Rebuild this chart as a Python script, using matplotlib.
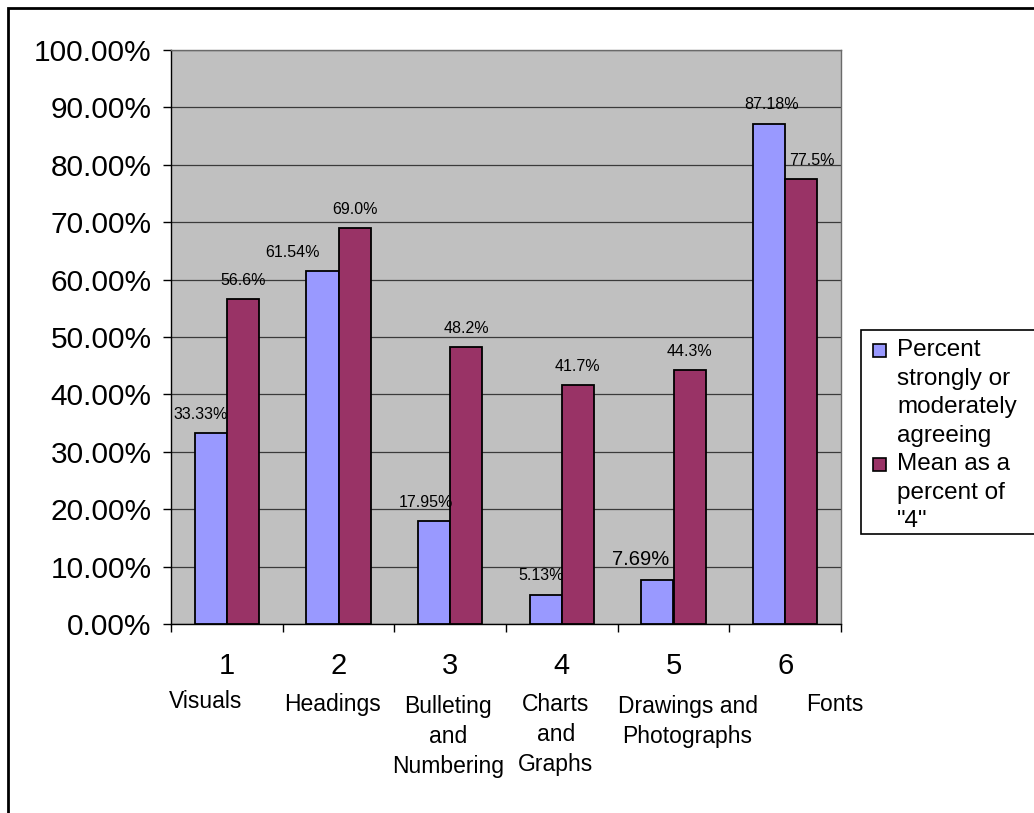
import matplotlib
matplotlib.use("Agg")
import matplotlib.pyplot as plt
from matplotlib.patches import Rectangle
from matplotlib.ticker import FixedLocator, FuncFormatter

plt.rcParams['font.family'] = ['Liberation Sans', 'DejaVu Sans']

# ---- data ----
category_numbers = ["1", "2", "3", "4", "5", "6"]
category_names = ["Visuals", "Headings", "Bulleting\nand\nNumbering",
                  "Charts\nand\nGraphs", "Drawings and\nPhotographs", "Fonts"]
pct_agreeing = [33.33, 61.54, 17.95, 5.13, 7.69, 87.18]
mean_pct_of_4 = [56.6, 69.0, 48.2, 41.7, 44.3, 77.5]
agree_labels = ["33.33%", "61.54%", "17.95%", "5.13%", "7.69%", "87.18%"]
mean_labels = ["56.6%", "69.0%", "48.2%", "41.7%", "44.3%", "77.5%"]
legend_lines = [["Percent", "strongly or", "moderately", "agreeing"],
                ["Mean as a", "percent of", '"4"']]

# ---- layout (pixels) ----
W, H = 1034, 813
DPI = 100
BLUE = "#9999FF"
RED = "#993366"
PLOT_BG = "#C0C0C0"

# label nudges in pixels (x) so neighbouring labels do not collide
agree_dx = [-10, -30, -8, -5, -17, 2]
agree_size = [11.5, 11.5, 11.5, 11.5, 14.5, 11.5]
mean_dx = [0, 0, 0, 0, 0, 11]
name_dx = [-21, -6, -2, -6, 14, 50]
name_top = [690, 693, 695, 693, 695, 693]

fig = plt.figure(figsize=(W / DPI, H / DPI), dpi=DPI)
fig.patch.set_facecolor("white")


def fx(px):
    return px / W


def fy(py):
    return 1 - py / H


# outer chart border
fig.patches.append(Rectangle((fx(8), fy(900)), fx(1100), fy(8) - fy(900),
                             transform=fig.transFigure, fill=False,
                             edgecolor="black", linewidth=2, zorder=0))

L, R, T, B = 171, 841, 50, 624
ax = fig.add_axes([fx(L), fy(B), fx(R - L), fy(T) - fy(B)])
ax.set_facecolor(PLOT_BG)

n = len(category_numbers)
xs = list(range(n))
bw = 0.287
b1 = ax.bar([x - bw / 2 for x in xs], pct_agreeing, width=bw, color=BLUE,
            edgecolor="black", linewidth=1.3, zorder=3)
b2 = ax.bar([x + bw / 2 for x in xs], mean_pct_of_4, width=bw, color=RED,
            edgecolor="black", linewidth=1.3, zorder=3)

ax.set_xlim(-0.5, n - 0.5)
ax.set_ylim(0, 100)

# y axis
ax.yaxis.set_major_locator(FixedLocator([i * 10 for i in range(11)]))
ax.yaxis.set_major_formatter(FuncFormatter(lambda v, p: f"{v:.2f}%"))
ax.tick_params(axis="y", direction="out", length=6, width=1, pad=8,
               labelsize=21.5, colors="black")
ax.grid(axis="y", color="#3a3a3a", linewidth=0.9, zorder=1)
ax.set_axisbelow(True)

# x axis: ticks between groups, category numbers under group centres
ax.xaxis.set_major_locator(FixedLocator([i - 0.5 for i in range(n + 1)]))
ax.xaxis.set_major_formatter(FuncFormatter(lambda v, p: ""))
ax.xaxis.set_minor_locator(FixedLocator(xs))
ax.set_xticklabels(category_numbers, minor=True)
ax.tick_params(axis="x", which="major", direction="out", length=6, width=1)
ax.tick_params(axis="x", which="minor", length=0, pad=20, labelsize=21)

for side in ("top", "right"):
    ax.spines[side].set_color("#6a6a6a")
    ax.spines[side].set_linewidth(1.0)
for side in ("left", "bottom"):
    ax.spines[side].set_color("black")
    ax.spines[side].set_linewidth(1.0)

# data labels
for i, rect in enumerate(b1):
    ax.annotate(agree_labels[i],
                (rect.get_x() + rect.get_width() / 2, rect.get_height()),
                xytext=(agree_dx[i] * 0.72, 8), textcoords="offset points",
                ha="center", va="bottom", fontsize=agree_size[i], zorder=5)
for i, rect in enumerate(b2):
    ax.annotate(mean_labels[i],
                (rect.get_x() + rect.get_width() / 2, rect.get_height()),
                xytext=(mean_dx[i] * 0.72, 8), textcoords="offset points",
                ha="center", va="bottom", fontsize=11.5, zorder=5)

# category names under the numbers
group_w = (R - L) / n
for i, name in enumerate(category_names):
    cx = L + group_w * (i + 0.5) + name_dx[i]
    fig.text(fx(cx), fy(name_top[i]), name, ha="center", va="top",
             fontsize=16.5, linespacing=1.4)

# legend box
LG_L, LG_T, LG_B = 861, 330, 534
fig.patches.append(Rectangle((fx(LG_L), fy(LG_B)), fx(300), fy(LG_T) - fy(LG_B),
                             transform=fig.transFigure, facecolor="white",
                             edgecolor="black", linewidth=1.2, zorder=1))
entry_y = [[350, 378.5, 407, 435.5], [464, 492.5, 521]]
for colour, lines, ys in zip([BLUE, RED], legend_lines, entry_y):
    fig.patches.append(Rectangle((fx(873), fy(ys[0] + 7)), fx(13), fy(0) - fy(13),
                                 transform=fig.transFigure, facecolor=colour,
                                 edgecolor="black", linewidth=1.2, zorder=2))
    for txt, y in zip(lines, ys):
        fig.text(fx(897), fy(y), txt, ha="left", va="center", fontsize=17.5,
                 zorder=3)

fig.savefig("out.png", dpi=DPI)
